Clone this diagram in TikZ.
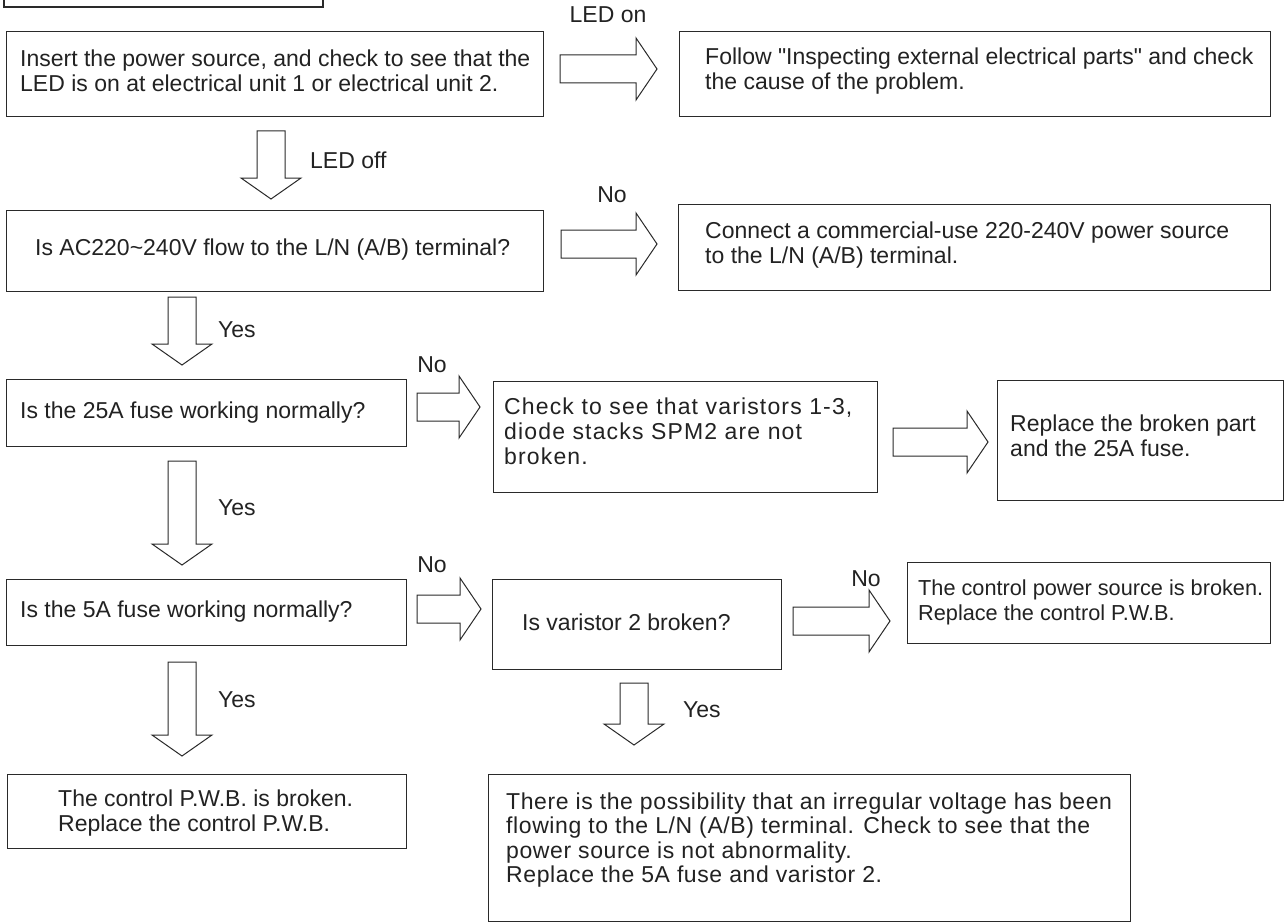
\documentclass[tikz,border=0pt]{standalone}
\usepackage{fontspec}
\setmainfont{Liberation Sans}
\newfontfamily\widefont[LetterSpace=5]{Liberation Sans}
\newfontfamily\midfont[LetterSpace=2.6]{Liberation Sans}
\newfontfamily\qfont{Liberation Sans}
\definecolor{linec}{HTML}{2A2A2A}
\definecolor{txtc}{HTML}{222222}
\newcommand{\blockR}[3]{% x start, y centre, tip x
  \draw[blk] (#1,#2-14) -- (#3-21,#2-14) -- (#3-21,#2-31) -- (#3,#2) -- (#3-21,#2+31) -- (#3-21,#2+14) -- (#1,#2+14) -- cycle;}
\newcommand{\blockD}[3]{% x centre, y start, tip y
  \draw[blk] (#1-14,#2) -- (#1-14,#3-21) -- (#1-30,#3-21) -- (#1,#3) -- (#1+30,#3-21) -- (#1+14,#3-21) -- (#1+14,#2) -- cycle;}
\newcommand{\qq}{{\qfont\symbol{"22}}}
\begin{document}
\begin{tikzpicture}[x=1pt,y=-1pt,
  box/.style={draw=linec, line width=1.2pt, inner sep=0pt, anchor=north west},
  blk/.style={draw=linec, line width=1pt, line join=miter, fill=white},
  txt/.style={anchor=west, align=left, inner sep=0pt, text=txtc, font=\fontsize{23}{25}\selectfont},
  lbl/.style={inner sep=0pt, text=txtc, font=\fontsize{23}{25}\selectfont}]
\useasboundingbox[fill=white] (0,0) rectangle (1285,923);
% fragment of title box
\draw[linec, line width=2pt] (4,-3) -- (4,7) -- (323,7) -- (323,-3);

% row 1
\node[box, minimum width=537pt, minimum height=85pt] (b1) at (6,31) {};
\node[txt] (t1) at (20,71) {Insert the power source, and check to see that the\\LED is on at electrical unit 1 or electrical unit 2.};
\node[box, minimum width=591pt, minimum height=85pt] (b2) at (679,31) {};
\node[txt] (t2) at (705,71) {Follow \qq Inspecting external electrical parts\qq{} and check\\the cause of the problem.};
\blockR{560}{69}{657}
\node[lbl] (l1) at (608,15) {LED on};

\blockD{271}{131}{199}
\node[lbl, anchor=west] (l2) at (310,160) {LED off};

% row 2
\node[box, minimum width=537pt, minimum height=81pt] (b3) at (6,210) {};
\node[txt] (t3) at (35,250) {Is AC220\char`~240V flow to the L/N (A/B) terminal?};
\node[box, minimum width=592pt, minimum height=86pt] (b4) at (678,204) {};
\node[txt] (t4) at (705,245) {Connect a commercial-use 220-240V power source\\to the L/N (A/B) terminal.};
\blockR{561}{244}{657}
\node[lbl] (l3) at (612,195) {No};

\blockD{182}{297}{365}
\node[lbl, anchor=west] (l4) at (218,330) {Yes};

% row 3
\node[box, minimum width=400pt, minimum height=67pt] (b5) at (6,379) {};
\node[txt] (t5) at (20,413) {Is the 25A fuse working normally?};
\blockR{417}{407}{480}
\node[lbl] (l5) at (432,365) {No};
\node[box, minimum width=384pt, minimum height=111pt] (b6) at (493,381) {};
\node[txt, font=\widefont\fontsize{23}{25}\selectfont] (t6) at (504,431) {Check to see that varistors 1-3,\\diode stacks SPM2 are not\\broken.};
\blockR{893}{442}{988}
\node[box, minimum width=286pt, minimum height=120pt] (b7) at (997,380) {};
\node[txt] (t7) at (1010,436) {Replace the broken part\\and the 25A fuse.};

\blockD{182}{461}{565}
\node[lbl, anchor=west] (l6) at (218,508) {Yes};

% row 4
\node[box, minimum width=400pt, minimum height=66pt] (b8) at (6,579) {};
\node[txt] (t8) at (20,612) {Is the 5A fuse working normally?};
\blockR{417}{609}{481}
\node[lbl] (l7) at (432,565) {No};
\node[box, minimum width=289pt, minimum height=90pt] (b9) at (492,579) {};
\node[txt] (t9) at (522,622) {Is varistor 2 broken?};
\blockR{793}{621}{890}
\node[lbl] (l8) at (866,579) {No};
\node[box, minimum width=363pt, minimum height=81pt] (b10) at (907,562) {};
\node[txt, font=\fontsize{21.7}{25}\selectfont] (t10) at (918,602) {The control power source is broken.\\Replace the control P.W.B.};

\blockD{634}{683}{745}
\node[lbl, anchor=west] (l9) at (683,710) {Yes};
\blockD{182}{662}{756}
\node[lbl, anchor=west] (l10) at (218,700) {Yes};

% row 5
\node[box, minimum width=399pt, minimum height=74pt] (b11) at (7,774) {};
\node[txt] (t11) at (58,813) {The control P.W.B. is broken.\\Replace the control P.W.B.};
\node[box, minimum width=642pt, minimum height=147pt] (b12) at (488,774) {};
\node[txt, font=\midfont\fontsize{23}{24.5}\selectfont] (t12) at (506,840) {There is the possibility that an irregular voltage has been\\flowing to the L/N (A/B) terminal. Check to see that the\\power source is not abnormality.\\Replace the 5A fuse and varistor 2.};
\end{tikzpicture}
\end{document}
